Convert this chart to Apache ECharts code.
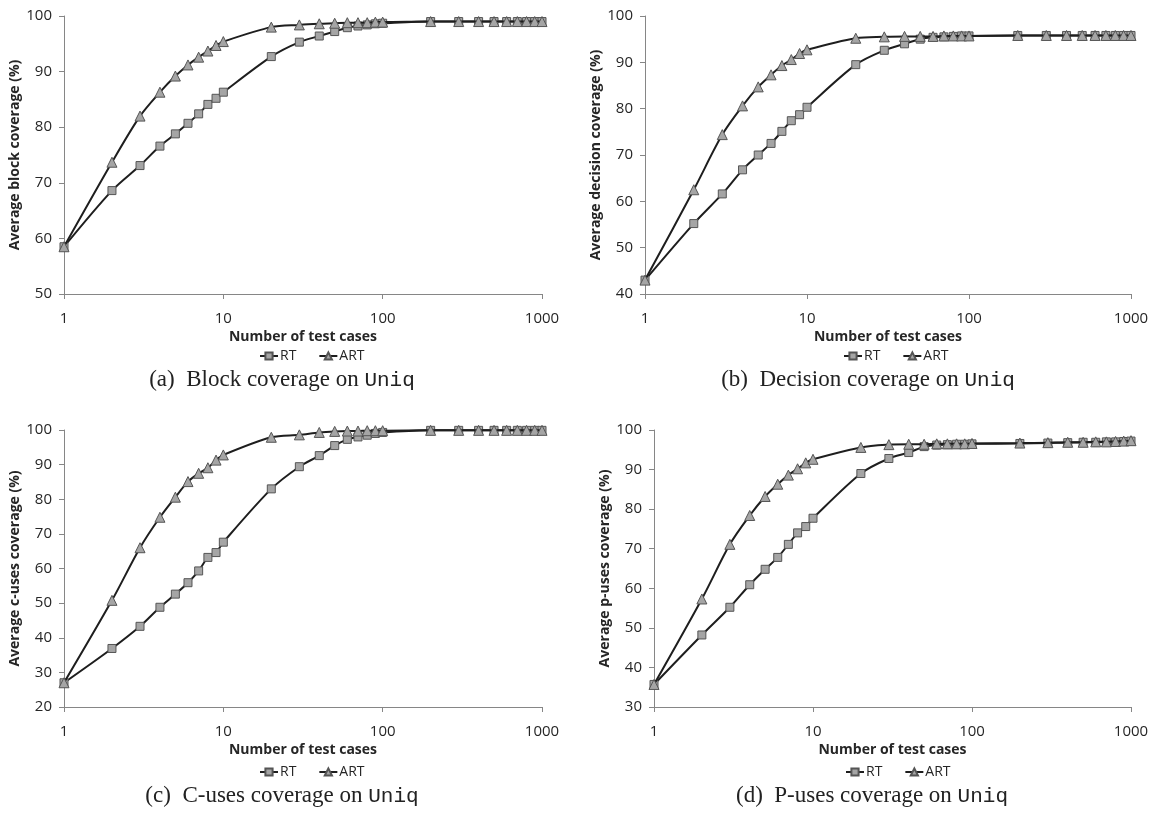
<!DOCTYPE html>
<html><head><meta charset="utf-8">
<script src="https://cdn.jsdelivr.net/npm/echarts@6/dist/echarts.min.js"></script>
<style>html,body{margin:0;padding:0;background:#fff}#c{width:1156px;height:816px}</style>
</head><body><div id="c"></div>
<script>
const xs = [1,2,3,4,5,6,7,8,9,10,20,30,40,50,60,70,80,90,100,200,300,400,500,600,700,800,900,1000];
const xTicks = ['1','10','100','1000'];

const blockRT  = [58.5,68.6,73.1,76.6,78.8,80.7,82.4,84.1,85.2,86.3,92.7,95.3,96.4,97.2,97.9,98.2,98.4,98.6,98.7,99.0,99.0,99.0,99.0,99.0,99.0,99.0,99.0,99.0];
const blockART = [58.5,73.7,82.0,86.3,89.2,91.2,92.6,93.7,94.7,95.4,98.0,98.4,98.6,98.7,98.8,98.8,98.8,98.9,98.9,99.0,99.0,99.0,99.0,99.0,99.0,99.0,99.0,99.0];

const decRT  = [43.0,55.2,61.6,66.8,70.0,72.5,75.1,77.4,78.7,80.3,89.5,92.6,94.0,95.0,95.4,95.5,95.6,95.7,95.7,95.8,95.8,95.8,95.8,95.8,95.8,95.8,95.8,95.8];
const decART = [43.0,62.5,74.4,80.6,84.7,87.3,89.3,90.6,91.9,92.7,95.2,95.5,95.6,95.6,95.6,95.7,95.7,95.7,95.7,95.8,95.8,95.8,95.8,95.8,95.8,95.8,95.8,95.8];

const cRT  = [27.0,36.9,43.3,48.8,52.6,55.9,59.3,63.2,64.6,67.6,83.0,89.4,92.6,95.5,97.3,98.0,98.5,99.0,99.3,99.9,99.9,99.9,99.9,99.9,99.9,99.9,99.9,99.9];
const cART = [27.0,50.8,66.0,74.8,80.6,85.1,87.5,89.1,91.3,92.8,97.9,98.6,99.3,99.6,99.7,99.7,99.8,99.8,99.8,99.9,99.9,99.9,99.9,99.9,99.9,99.9,99.9,99.9];

const pRT  = [35.7,48.2,55.2,60.9,64.8,67.8,71.1,74.0,75.6,77.7,89.0,92.8,94.3,95.8,96.2,96.3,96.4,96.4,96.5,96.6,96.7,96.8,96.9,96.9,97.0,97.0,97.1,97.2];
const pART = [35.7,57.3,71.1,78.4,83.2,86.3,88.6,90.2,91.7,92.6,95.6,96.3,96.4,96.4,96.5,96.5,96.5,96.5,96.6,96.7,96.8,96.9,96.9,97.0,97.0,97.1,97.2,97.3];

const yNames = ['Average block coverage (%)','Average decision coverage (%)','Average c-uses coverage (%)','Average p-uses coverage (%)'];
const yMins = [50,40,20,30];
const captions = [['(a)','Block coverage on'],['(b)','Decision coverage on'],['(c)','C-uses coverage on'],['(d)','P-uses coverage on']];
const progName = 'Uniq';
const xName = 'Number of test cases';
const seriesNames = ['RT','ART'];
const panels = [[blockRT,blockART],[decRT,decART],[cRT,cART],[pRT,pART]];

const grids = [
  {left:64, top:16, width:478, height:278},
  {left:645, top:16, width:486, height:278},
  {left:64, top:430, width:478, height:277},
  {left:654, top:430, width:477, height:277}
];
const legendPos = [{left:254, top:344},{left:838, top:344},{left:254, top:760},{left:840, top:760}];
const capPos = [[282,380],[868,380],[282,796],[872,796]];

const FONT = 'Open Sans';
const axisCol = '#868686';
const option = {
  animation:false,
  backgroundColor:'#fff',
  grid: grids.map(g=>Object.assign({containLabel:false}, g)),
  xAxis: grids.map((g,i)=>({
    type:'log', logBase:10, min:1, max:1000, gridIndex:i,
    name:xName, nameLocation:'middle', nameGap:36,
    nameTextStyle:{fontFamily:FONT, fontWeight:'bold', fontSize:14, color:'#262626'},
    axisLine:{lineStyle:{color:axisCol, width:1}},
    axisTick:{show:true, length:5, inside:false, lineStyle:{color:axisCol}},
    minorTick:{show:false},
    splitLine:{show:false},
    axisLabel:{fontFamily:FONT, fontSize:15, color:'#262626', margin:17,
      formatter:v=>xTicks.includes(String(v))?String(v):''}
  })),
  yAxis: grids.map((g,i)=>({
    type:'value', min:yMins[i], max:100, interval:10, gridIndex:i,
    name:yNames[i], nameLocation:'middle', nameGap:41, nameRotate:90,
    nameTextStyle:{fontFamily:FONT, fontWeight:'bold', fontSize:14, color:'#262626'},
    axisLine:{show:true, lineStyle:{color:axisCol, width:1}},
    axisTick:{show:true, length:5, lineStyle:{color:axisCol}},
    splitLine:{show:false},
    axisLabel:{fontFamily:FONT, fontSize:15, color:'#262626', margin:12}
  })),
  legend: legendPos.map(p=>({
    data:seriesNames, left:p.left, top:p.top, itemWidth:18, itemHeight:9, itemGap:22,
    textStyle:{fontFamily:FONT, fontSize:14, color:'#262626', padding:[0,0,0,-3]}
  })),
  series: [],
  graphic: captions.map((c,i)=>({
    type:'text', x:capPos[i][0], y:capPos[i][1],
    style:{
      text:'{s|'+c[0]+'  '+c[1]+' }{m|'+progName+'}',
      align:'center', verticalAlign:'middle',
      rich:{
        s:{fontFamily:'Liberation Serif', fontSize:23, fill:'#222'},
        m:{fontFamily:'Liberation Mono', fontSize:21, fill:'#222'}
      }
    }
  }))
};

panels.forEach((pair,i)=>{
  pair.forEach((vals,k)=>{
    option.series.push({
      name:seriesNames[k], type:'line', xAxisIndex:i, yAxisIndex:i,
      data: xs.map((x,j)=>[x, vals[j]]),
      smooth:0.3,
      symbol: k===0 ? 'rect' : 'triangle',
      symbolSize: k===0 ? 8 : 10,
      lineStyle:{color:'#1e1e1e', width:2},
      itemStyle:{color:'#a5a5a5', borderColor:'#555', borderWidth:1},
      z: 2+k
    });
  });
});

const chart = echarts.init(document.getElementById('c'), null, {renderer:'canvas'});
chart.setOption(option);
</script>
</body></html>
